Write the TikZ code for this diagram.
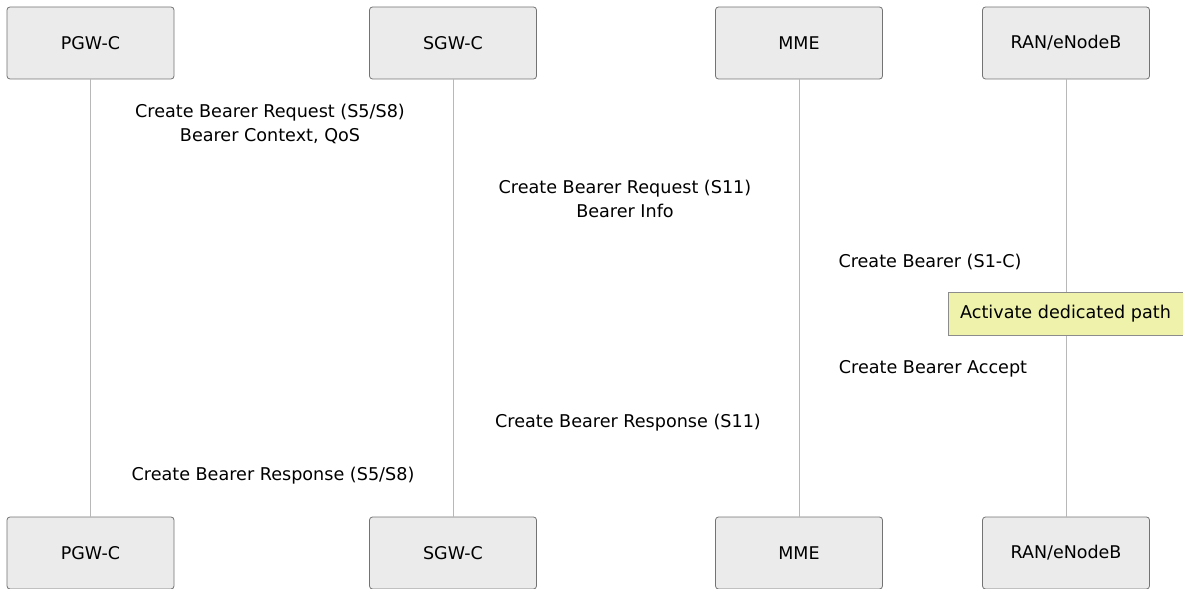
\documentclass[tikz,border=0pt]{standalone}
\usepackage{fontspec}
\setmainfont{DejaVu Sans}
\begin{document}
\begin{tikzpicture}[x=1bp,y=-1bp,
  actor/.style={draw=black!55,fill=black!8,rounded corners=3bp,line width=0.8bp,minimum width=167bp,minimum height=72bp,inner sep=0pt,font=\fontsize{17.5bp}{24bp}\selectfont},
  life/.style={draw=black!28,line width=1bp},
  msg/.style={font=\fontsize{17.6bp}{24bp}\selectfont,align=center,inner sep=0pt},
  notebox/.style={draw=black!45,fill={rgb,255:red,238;green,242;blue,170},line width=0.8bp,minimum width=235bp,minimum height=43bp,inner sep=0pt,font=\fontsize{17.6bp}{24bp}\selectfont}]
\useasboundingbox (0,0) rectangle (1183,589);
% top actors
\node[actor] (pt) at (90.5,43) {PGW-C};
\node[actor] (st) at (453,43) {SGW-C};
\node[actor] (mt) at (799,43) {MME};
\node[actor] (rt) at (1066,43) {RAN/eNodeB};
% bottom actors
\node[actor] (pb) at (90.5,553) {PGW-C};
\node[actor] (sb) at (453,553) {SGW-C};
\node[actor] (mb) at (799,553) {MME};
\node[actor] (rb) at (1066,553) {RAN/eNodeB};
% lifelines
\draw[life] (pt.south) -- (pb.north);
\draw[life] (st.south) -- (sb.north);
\draw[life] (mt.south) -- (mb.north);
\draw[life] (rt.south) -- (rb.north);
% note
\node[notebox] (note) at (1065.5,314) {Activate dedicated path};
% messages
\node[msg] (m1) at (270,124) {Create Bearer Request (S5/S8)\\Bearer Context, QoS};
\node[msg] (m2) at (625,199) {Create Bearer Request (S11)\\Bearer Info};
\node[msg] (m3) at (930,262) {Create Bearer (S1-C)};
\node[msg] (m4) at (933,369) {Create Bearer Accept};
\node[msg] (m5) at (628,423) {Create Bearer Response (S11)};
\node[msg] (m6) at (273,476) {Create Bearer Response (S5/S8)};
\end{tikzpicture}
\end{document}
